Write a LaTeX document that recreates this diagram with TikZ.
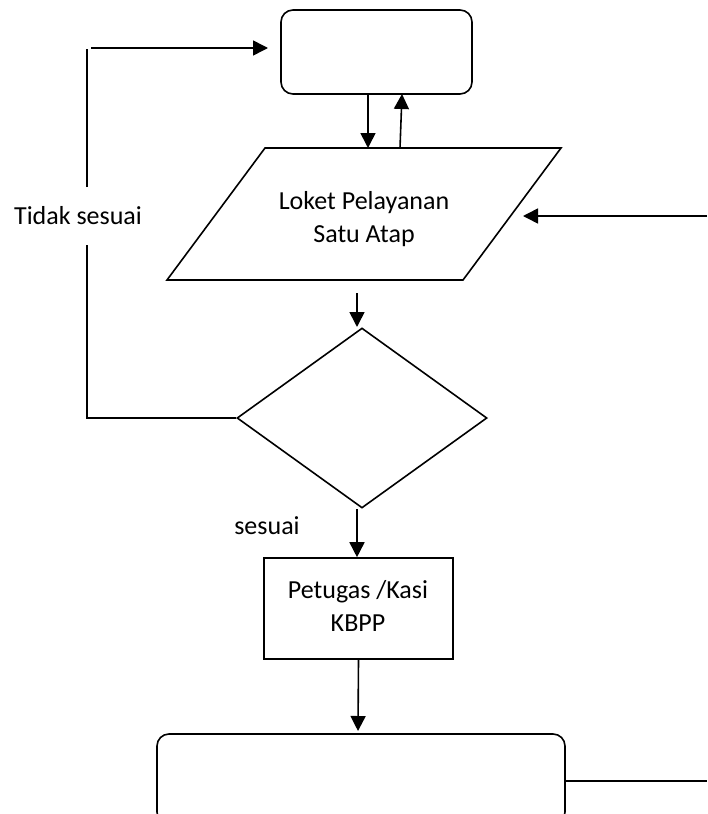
\documentclass[tikz,border=0pt]{standalone}
\usepackage{fontspec}
\setmainfont{Carlito}
\usetikzlibrary{shapes.geometric,arrows.meta}
\begin{document}
\begin{tikzpicture}[x=1pt,y=-1pt,
  ln/.style={line width=1.6pt},
  arr/.style={line width=1.6pt,-{Triangle[length=15pt,width=15pt]}},
  lbl/.style={font=\fontsize{26}{33}\selectfont, align=center, inner sep=0pt}]
\useasboundingbox (0,0) rectangle (707,814);
% top rounded box
\node[draw,ln,rounded corners=12pt,minimum width=191pt,minimum height=84pt,inner sep=0pt] (top) at (376.5,52) {};
% parallelogram
\coordinate (p1) at (265,148);
\coordinate (p2) at (561,148);
\coordinate (p3) at (463,280);
\coordinate (p4) at (167,280);
\draw[ln,line join=miter] (p1)--(p2)--(p3)--(p4)--cycle;
\node[lbl] (loket) at (364,219) {Loket Pelayanan\\Satu Atap};
% arrows top box <-> parallelogram
\coordinate (d1) at (368,148);
\draw[arr] (top.south -| d1) -- (d1);
\coordinate (u1) at (400,148);
\coordinate (u2) at (402,94);
\draw[arr] (u1) -- (u2);
% right incoming arrow
\coordinate (rin) at (707,216);
\coordinate (rtip) at (523,216);
\draw[arr] (rin) -- (rtip);
% diamond
\node[draw,ln,diamond,minimum width=250pt,minimum height=180pt,inner sep=0pt] (dia) at (362,418) {};
\coordinate (a1) at (357,293);
\coordinate (a2) at (357,327);
\draw[arr] (a1) -- (a2);
% loop back (Tidak sesuai)
\coordinate (lb) at (87,418);
\coordinate (lg1) at (87,245);
\coordinate (lg2) at (87,187);
\coordinate (lt) at (87,49);
\coordinate (ls) at (91,48);
\coordinate (le) at (268,48);
\draw[ln] (dia.west) -- (lb) -- (lg1);
\draw[ln] (lg2) -- (lt);
\draw[arr] (ls) -- (le);
\node[lbl] (tidak) at (78,216) {Tidak sesuai};
% petugas box
\node[draw,ln,minimum width=189pt,minimum height=101pt,inner sep=0pt] (pet) at (358.5,608.5) {};
\node[lbl] (pettxt) at (358,606) {Petugas /Kasi\\KBPP};
\coordinate (b1) at (357,509);
\draw[arr] (b1) -- (pet.north -| b1);
\node[lbl] (sesuai) at (267,526) {sesuai};
% bottom rounded box
\node[draw,ln,rounded corners=12pt,minimum width=408pt,minimum height=90pt,inner sep=0pt] (bot) at (361,779) {};
\coordinate (c1) at (358,731);
\draw[arr] (pet.south) -- (c1);
\coordinate (rout) at (707,781);
\draw[ln] (bot.east |- rout) -- (rout);
\end{tikzpicture}
\end{document}
